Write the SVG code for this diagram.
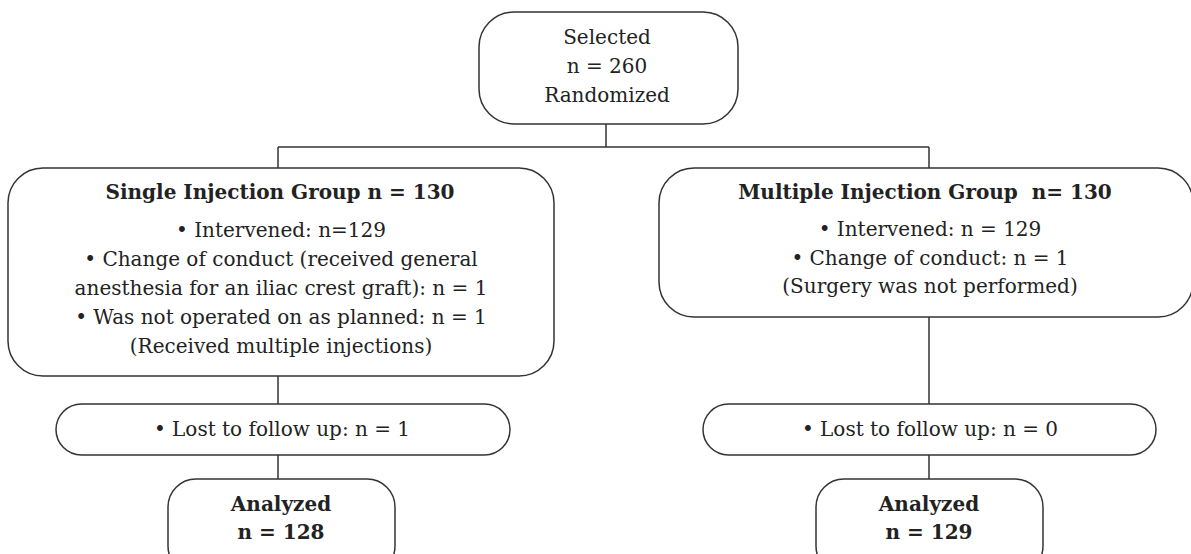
<svg xmlns="http://www.w3.org/2000/svg" width="1191" height="554" viewBox="0 0 1191 554">
<style>
.box{fill:#fff;stroke:#333;stroke-width:1.5}
.ln{stroke:#333;stroke-width:1.5;fill:none}
text{font-family:"DejaVu Serif","Liberation Serif",serif;font-size:20px;fill:#222;text-anchor:middle}
.b{font-weight:bold}
</style>
<rect width="1191" height="554" fill="#fff"/>
<g id="connectors">
<line class="ln" x1="606" y1="124" x2="606" y2="147"/>
<line class="ln" x1="278" y1="147" x2="929" y2="147"/>
<line class="ln" x1="278" y1="147" x2="278" y2="168"/>
<line class="ln" x1="929" y1="147" x2="929" y2="168"/>
<line class="ln" x1="278" y1="376" x2="278" y2="404"/>
<line class="ln" x1="929" y1="317" x2="929" y2="404"/>
<line class="ln" x1="278" y1="455" x2="278" y2="479"/>
<line class="ln" x1="929" y1="455" x2="929" y2="479"/>
</g>
<g id="selected">
<rect class="box" x="479" y="12" width="259" height="112" rx="35"/>
<text x="607" y="44">Selected</text>
<text x="607" y="73">n = 260</text>
<text x="607" y="102">Randomized</text>
</g>
<g id="single">
<rect class="box" x="8" y="168" width="546" height="208" rx="35"/>
<text class="b" x="280" y="199">Single Injection Group n = 130</text>
<text x="281" y="237">• Intervened: n=129</text>
<text x="281" y="266">• Change of conduct (received general</text>
<text x="281" y="295">anesthesia for an iliac crest graft): n = 1</text>
<text x="281" y="324">• Was not operated on as planned: n = 1</text>
<text x="281" y="353">(Received multiple injections)</text>
</g>
<g id="multiple">
<rect class="box" x="659" y="168" width="534" height="149" rx="35"/>
<text class="b" x="925" y="199" xml:space="preserve">Multiple Injection Group  n= 130</text>
<text x="930" y="236">• Intervened: n = 129</text>
<text x="930" y="265">• Change of conduct: n = 1</text>
<text x="930" y="293">(Surgery was not performed)</text>
</g>
<g id="lost-single">
<rect class="box" x="56" y="404" width="454" height="51" rx="25.5"/>
<text x="282" y="436">• Lost to follow up: n = 1</text>
</g>
<g id="lost-multiple">
<rect class="box" x="703" y="404" width="453" height="51" rx="25.5"/>
<text x="930" y="436">• Lost to follow up: n = 0</text>
</g>
<g id="analyzed-single">
<rect class="box" x="168" y="479" width="227" height="95" rx="28"/>
<text class="b" x="281" y="511">Analyzed</text>
<text class="b" x="281" y="539">n = 128</text>
</g>
<g id="analyzed-multiple">
<rect class="box" x="816" y="479" width="227" height="95" rx="28"/>
<text class="b" x="929" y="511">Analyzed</text>
<text class="b" x="929" y="539">n = 129</text>
</g>
</svg>
